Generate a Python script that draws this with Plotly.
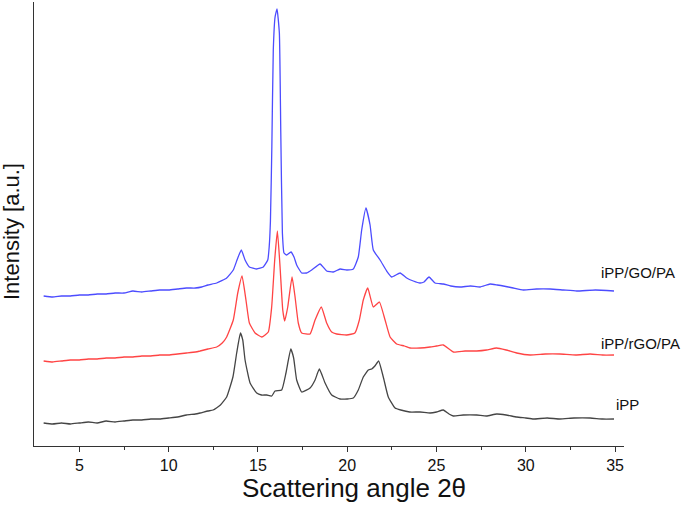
import plotly.graph_objects as go

# iPP
x_ipp = [3.0, 3.5, 4.0, 4.5, 5.0, 5.5, 6.0, 6.5, 7.0, 7.5, 8.0, 8.5, 9.0, 9.5, 10.0, 10.5, 11.0, 11.5, 11.76,
         12.2, 12.49, 12.9, 13.25, 13.6, 13.81, 14.02, 14.15, 14.28, 14.56, 14.93, 15.2, 15.49, 15.77, 15.96,
         16.33, 16.57, 16.84, 17.0, 17.17, 17.45, 17.92, 18.2, 18.44, 18.76, 19.13, 19.6, 20.0, 20.34, 20.62,
         20.9, 21.18, 21.37, 21.55, 21.76, 22.02, 22.3, 22.68, 23.0, 23.5, 24.08, 24.64, 25.0, 25.38, 25.7,
         25.94, 26.5, 27.25, 27.8, 28.37, 28.9, 29.49, 30.0, 30.43, 31.2, 31.91, 32.7, 33.6, 34.3, 34.94]
y_ipp = [23, 22, 23, 22, 23, 24, 23, 25, 24, 25, 26, 26, 27, 27, 28, 29, 31, 32, 33,
         35, 36, 41, 49, 69, 93, 113, 106, 86, 63, 53, 51, 51, 50, 55,
         56, 73, 97, 88, 66, 54, 58, 66, 77, 63, 51, 47, 47, 48, 56,
         69, 76, 77, 80, 85, 69, 49, 38, 36, 34, 34, 33, 34, 36, 32,
         30, 31, 31, 30, 32, 31, 29, 28, 27, 28, 27, 28, 28, 27, 27]

# iPP/rGO/PA
x_rgo = [3.0, 3.5, 4.0, 4.5, 5.0, 5.5, 6.0, 6.5, 7.0, 7.5, 8.0, 8.5, 9.0, 9.5, 10.0, 10.5, 11.0, 11.5, 11.76,
         12.2, 12.69, 13.0, 13.25, 13.62, 13.87, 14.11, 14.33, 14.52, 14.84, 15.21, 15.58, 15.77, 15.94, 16.09,
         16.24, 16.39, 16.5, 16.67, 16.91, 17.08, 17.26, 17.45, 17.92, 18.2, 18.55, 18.85, 19.13, 19.41, 19.97,
         20.43, 20.68, 20.9, 21.15, 21.46, 21.8, 22.12, 22.4, 22.77, 23.2, 23.52, 24.08, 24.64, 25.0, 25.38,
         25.94, 26.6, 27.25, 27.8, 28.37, 28.9, 29.49, 30.24, 31.1, 31.91, 32.8, 33.6, 34.3, 34.94]
y_rgo = [85, 84, 85, 86, 86, 87, 87, 88, 88, 89, 89, 90, 90, 91, 91, 92, 93, 94, 95,
         97, 99, 103, 109, 126, 153, 170, 146, 123, 113, 109, 114, 139, 186, 215,
         179, 136, 125, 139, 169, 149, 123, 113, 112, 126, 139, 123, 114, 112, 111,
         113, 126, 146, 158, 139, 144, 126, 109, 102, 100, 98, 98, 99, 100, 101,
         94, 95, 95, 96, 98, 96, 93, 91, 92, 92, 91, 92, 91, 91]

# iPP/GO/PA
x_go = [3.0, 3.5, 4.0, 4.5, 5.0, 5.5, 6.0, 6.5, 7.0, 7.5, 8.0, 8.5, 9.0, 9.5, 10.0, 10.5, 11.0, 11.5, 11.85,
        12.2, 12.69, 13.25, 13.62, 13.85, 14.07, 14.28, 14.52, 14.93, 15.3, 15.55, 15.63, 15.7, 15.78, 15.86,
        15.96, 16.07, 16.2, 16.28, 16.37, 16.46, 16.61, 16.85, 17.02, 17.17, 17.45, 17.73, 18.01, 18.48, 18.85,
        19.22, 19.6, 19.98, 20.34, 20.62, 20.81, 21.05, 21.28, 21.46, 21.84, 22.21, 22.49, 22.96, 23.33, 23.7,
        24.07, 24.3, 24.58, 24.92, 25.38, 25.8, 26.32, 26.9, 27.44, 28.0, 28.4, 28.74, 29.3, 29.86, 30.6,
        31.36, 32.1, 32.85, 33.9, 34.94]
y_go = [150, 149, 150, 150, 151, 151, 152, 152, 153, 153, 155, 154, 155, 156, 156, 157, 158, 158, 159,
        161, 163, 168, 176, 187, 196, 186, 179, 177, 179, 186, 199, 225, 300, 396,
        429, 437, 413, 313, 213, 193, 191, 194, 189, 181, 173, 173, 176, 182, 175,
        174, 177, 176, 177, 189, 216, 238, 221, 196, 186, 175, 169, 173, 168, 165,
        163, 164, 169, 163, 162, 160, 159, 160, 159, 162, 161, 160, 158, 156, 157,
        157, 156, 155, 156, 155]

labels = ["iPP/GO/PA", "iPP/rGO/PA", "iPP"]
tick_vals = [5, 10, 15, 20, 25, 30, 35]

FONT = "Arial, Liberation Sans, sans-serif"

fig = go.Figure()
line_kw = dict(width=1.3, shape="spline", smoothing=0.4)
fig.add_trace(go.Scatter(x=x_ipp, y=y_ipp, mode="lines", line=dict(color="#454545", **line_kw), name="iPP"))
fig.add_trace(go.Scatter(x=x_rgo, y=y_rgo, mode="lines", line=dict(color="#ff4444", **line_kw), name="iPP/rGO/PA"))
fig.add_trace(go.Scatter(x=x_go, y=y_go, mode="lines", line=dict(color="#4c4cff", **line_kw), name="iPP/GO/PA"))

ann = [
    dict(x=34.1, y=174, text=labels[0]),
    dict(x=34.1, y=103, text=labels[1]),
    dict(x=34.94, y=42, text=labels[2]),
]
for a in ann:
    fig.add_annotation(x=a["x"], y=a["y"], text=a["text"], xref="x", yref="y", showarrow=False,
                       xanchor="left", yanchor="middle", font=dict(family=FONT, size=15, color="#111"))

# axis titles
fig.add_annotation(x=0.542, y=0, xref="paper", yref="paper", yshift=-42, showarrow=False,
                   text="Scattering angle 2θ", xanchor="center", yanchor="middle",
                   font=dict(family=FONT, size=26, color="#111"))
fig.add_annotation(x=0, y=0.482, xref="paper", yref="paper", xshift=-22, showarrow=False,
                   text="Intensity [a.u.]", textangle=-90, xanchor="center", yanchor="middle",
                   font=dict(family=FONT, size=22, color="#111"))

fig.update_layout(
    width=685, height=506,
    margin=dict(l=34, r=61, t=2, b=60),
    paper_bgcolor="white", plot_bgcolor="white",
    showlegend=False,
    font=dict(family=FONT, color="#111"),
    xaxis=dict(range=[2.46, 35.5], tickvals=tick_vals, ticks="outside", ticklen=5, tickwidth=1,
               tickcolor="#333", showline=True, linecolor="#333", linewidth=1.2, showgrid=False,
               zeroline=False, automargin=False, tickfont=dict(size=16, family=FONT, color="#111"),
               minor=dict(tickvals=[7.5, 12.5, 17.5, 22.5, 27.5, 32.5], ticks="outside", ticklen=3,
                          tickcolor="#333")),
    yaxis=dict(range=[0, 444], showticklabels=False, ticks="", showline=True, linecolor="#333",
               linewidth=1.2, showgrid=False, zeroline=False, automargin=False),
)

fig.write_html("out.html", config={"displayModeBar": False},
               post_script="document.body.style.margin='0';")
